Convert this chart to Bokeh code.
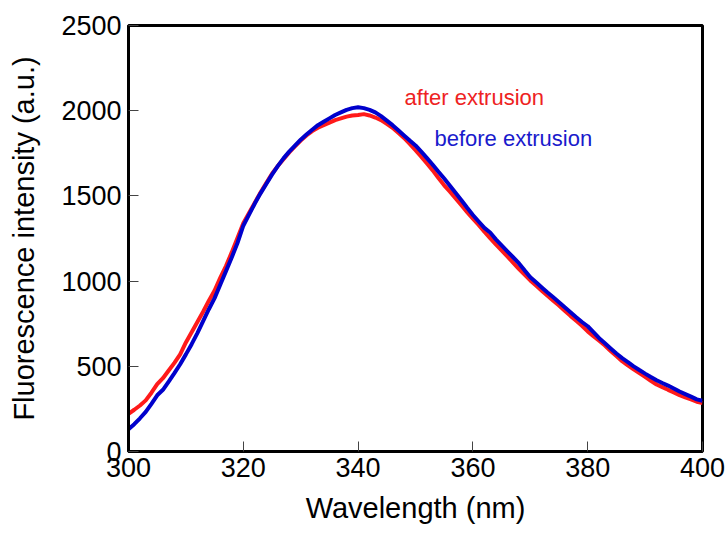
from bokeh.plotting import figure
from bokeh.models import Range1d, FixedTicker, Label
from bokeh.embed import file_html
from bokeh.resources import INLINE

wavelength = list(range(300, 401))

after_extrusion = [
    221, 245, 270, 300, 345, 395, 430, 475, 520, 570,
    640, 700, 760, 820, 885, 945, 1020, 1090, 1170, 1255,
    1340, 1400, 1460, 1520, 1575, 1630, 1675, 1715, 1755, 1790,
    1825, 1855, 1880, 1900, 1915, 1930, 1945, 1955, 1965, 1972,
    1975, 1980, 1972, 1960, 1945, 1923, 1900, 1870, 1840, 1805,
    1768, 1730, 1690, 1650, 1605, 1562, 1525, 1485, 1445, 1405,
    1367, 1330, 1290, 1252, 1215, 1180, 1145, 1108, 1072, 1038,
    1004, 974, 944, 914, 885, 857, 826, 796, 767, 738,
    705, 677, 650, 622, 590, 560, 530, 505, 482, 460,
    438, 415, 393, 378, 362, 347, 331, 318, 306, 292,
    285,
]

before_extrusion = [
    130, 160, 195, 232, 280, 330, 362, 410, 460, 512,
    570, 630, 695, 765, 835, 900, 980, 1060, 1140, 1225,
    1325, 1390, 1455, 1515, 1570, 1625, 1675, 1720, 1760, 1795,
    1830, 1860, 1888, 1915, 1935, 1955, 1975, 1990, 2005, 2015,
    2020, 2015, 2005, 1990, 1968, 1942, 1915, 1885, 1855, 1825,
    1796, 1760, 1722, 1683, 1642, 1602, 1560, 1517, 1474, 1430,
    1388, 1350, 1312, 1285, 1245, 1210, 1175, 1140, 1105, 1063,
    1023, 993, 963, 933, 905, 876, 846, 817, 788, 760,
    735, 700, 665, 635, 605, 575, 548, 525, 500, 478,
    457, 437, 418, 402, 387, 370, 352, 337, 322, 306,
    298,
]

x_ticks = [300, 320, 340, 360, 380, 400]
y_ticks = [0, 500, 1000, 1500, 2000, 2500]

FONT = "Liberation Sans"

p = figure(width=728, height=533, output_backend="svg", toolbar_location=None,
           x_range=Range1d(300, 400), y_range=Range1d(0, 2500),
           min_border_left=128, min_border_right=26, min_border_top=25,
           min_border_bottom=82)

p.line(wavelength, after_extrusion, line_color="#ff1a1a", line_width=4)
p.line(wavelength, before_extrusion, line_color="#0000cc", line_width=4)

p.add_layout(Label(x=348.1, y=2077, text="after extrusion", text_color="#ee2222",
                   text_font=FONT, text_font_size="22px", text_baseline="middle"))
p.add_layout(Label(x=353.3, y=1837, text="before extrusion", text_color="#1a1acc",
                   text_font=FONT, text_font_size="22px", text_baseline="middle"))

p.grid.visible = False
p.outline_line_color = "black"
p.outline_line_width = 3
p.outline_line_alpha = 1.0
p.background_fill_color = "white"
p.border_fill_color = "white"

for ax in (p.xaxis[0], p.yaxis[0]):
    ax.axis_line_width = 3
    ax.axis_line_color = "black"
    ax.major_tick_in = 10
    ax.major_tick_out = 0
    ax.major_tick_line_color = "#444444"
    ax.major_tick_line_width = 1
    ax.minor_tick_line_color = None
    ax.major_label_text_font = FONT
    ax.major_label_text_font_size = "27px"
    ax.major_label_text_color = "black"
    ax.axis_label_text_font = FONT
    ax.axis_label_text_font_size = "29px"
    ax.axis_label_text_font_style = "normal"
    ax.axis_label_text_color = "black"

p.xaxis[0].ticker = FixedTicker(ticks=x_ticks)
p.yaxis[0].ticker = FixedTicker(ticks=y_ticks)
p.xaxis[0].axis_label = "Wavelength (nm)"
p.yaxis[0].axis_label = "Fluorescence intensity (a.u.)"
p.xaxis[0].major_label_standoff = 6
p.yaxis[0].major_label_standoff = 7
p.xaxis[0].axis_label_standoff = 12
p.yaxis[0].axis_label_standoff = 18

open("out.html", "w").write(file_html(p, INLINE))
